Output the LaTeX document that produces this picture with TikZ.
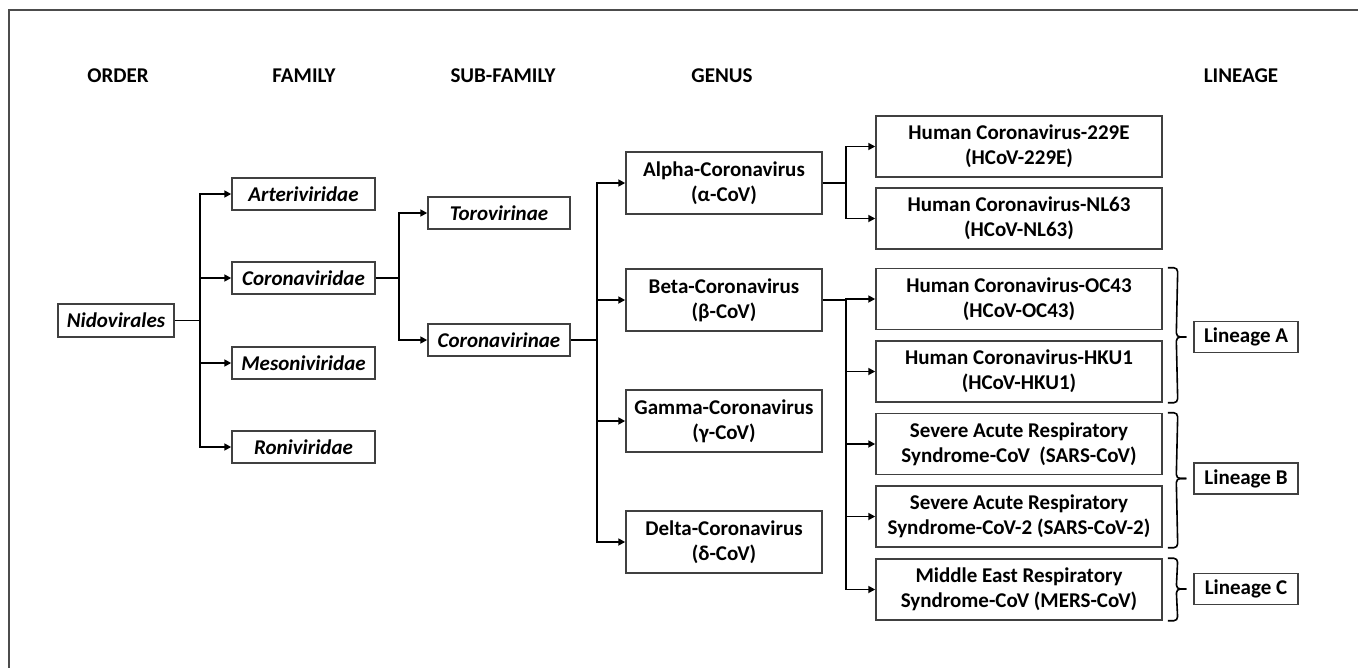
\documentclass[tikz,border=0pt]{standalone}
\usepackage{fontspec}
\setmainfont{Carlito}
\usetikzlibrary{arrows.meta,calc}
\begin{document}
\begin{tikzpicture}[x=1pt,y=-1pt,
  every node/.style={font=\fontsize{21}{25}\selectfont\bfseries},
  box/.style={draw=black!75, line width=1.5pt, inner sep=0pt, align=center},
  famstyle/.style={box, minimum width=143pt, minimum height=32pt, font=\fontsize{21}{25}\selectfont\bfseries\itshape},
  genstyle/.style={box, minimum width=196pt, minimum height=62pt},
  spstyle/.style={box, minimum width=286pt, minimum height=61pt},
  linstyle/.style={box, minimum width=104pt, minimum height=31pt},
  hdr/.style={anchor=base},
  conn/.style={line width=1.7pt, black},
  arr/.style={conn, -{Triangle[length=7pt,width=7pt]}},
  bracestyle/.style={line width=1.6pt, black, rounded corners=4pt}]
\useasboundingbox (0,0) rectangle (1358,667);
\draw[line width=1.6pt, black!70] (9,10) rectangle (1380,690);

% headers
\node[hdr] (hOrder) at (118,82) {ORDER};
\node[hdr] (hFamily) at (304,82) {FAMILY};
\node[hdr] (hSub) at (503,82) {SUB-FAMILY};
\node[hdr] (hGenus) at (722,82) {GENUS};
\node[hdr] (hLin) at (1241,82) {LINEAGE};

% order
\node[famstyle, minimum width=116pt, minimum height=33pt] (nid) at (116,320.5) {Nidovirales};
% families
\node[famstyle] (art) at (303.5,194) {Arteriviridae};
\node[famstyle] (corv) at (303.5,278) {Coronaviridae};
\node[famstyle] (meso) at (303.5,363) {Mesoniviridae};
\node[famstyle] (roni) at (303.5,447) {Roniviridae};
% sub-families
\node[famstyle, minimum width=142pt] (toro) at (499,213) {Torovirinae};
\node[famstyle, minimum width=142pt] (cvin) at (499,340) {Coronavirinae};
% genera
\node[genstyle] (alpha) at (724,183) {Alpha-Coronavirus\\(α-CoV)};
\node[genstyle] (beta) at (724,300) {Beta-Coronavirus\\(β-CoV)};
\node[genstyle] (gamma) at (724,421) {Gamma-Coronavirus\\(γ-CoV)};
\node[genstyle] (delta) at (724,542) {Delta-Coronavirus\\(δ-CoV)};
% species
\node[spstyle] (e229) at (1019,146.5) {Human Coronavirus-229E\\(HCoV-229E)};
\node[spstyle] (nl63) at (1019,218.5) {Human Coronavirus-NL63\\(HCoV-NL63)};
\node[spstyle] (oc43) at (1019,299) {Human Coronavirus-OC43\\(HCoV-OC43)};
\node[spstyle] (hku1) at (1019,371.5) {Human Coronavirus-HKU1\\(HCoV-HKU1)};
\node[spstyle] (sars) at (1019,444) {Severe Acute Respiratory\\Syndrome-CoV\ \ (SARS-CoV)};
\node[spstyle] (sars2) at (1019,516.5) {Severe Acute Respiratory\\Syndrome-CoV-2 (SARS-CoV-2)};
\node[spstyle] (mers) at (1019,589.5) {Middle East Respiratory\\Syndrome-CoV (MERS-CoV)};
% lineages
\node[linstyle] (linA) at (1246,337) {Lineage A};
\node[linstyle] (linB) at (1246,478.5) {Lineage B};
\node[linstyle] (linC) at (1246,589) {Lineage C};

% trunk coordinates
\coordinate (t1) at (200,0);
\coordinate (t2) at (399,0);
\coordinate (t3) at (597,0);
\coordinate (t4) at (846,0);

% order -> families
\draw[conn] (nid.east) -- (nid.east -| t1);
\foreach \n in {art,corv,meso,roni}
  \draw[arr] (nid.east -| t1) |- (\n.west);
% family -> sub-families
\draw[conn] (corv.east) -- (corv.east -| t2);
\foreach \n in {toro,cvin}
  \draw[arr] (corv.east -| t2) |- (\n.west);
% sub-family -> genera
\draw[conn] (cvin.east) -- (cvin.east -| t3);
\foreach \n in {alpha,beta,gamma,delta}
  \draw[arr] (cvin.east -| t3) |- (\n.west);
% alpha -> species
\draw[conn] (alpha.east) -- (alpha.east -| t4);
\foreach \n in {e229,nl63}
  \draw[arr] (alpha.east -| t4) |- (\n.west);
% beta -> species
\draw[conn] (beta.east) -- (beta.east -| t4);
\foreach \n in {oc43,hku1,sars,sars2,mers}
  \draw[arr] (beta.east -| t4) |- (\n.west);

% braces
\draw[bracestyle] ($(oc43.north east)+(5,0)$) -- ($(oc43.north east)+(15,0)$) -- ($(linA.west)+(-17,0)$) -- ($(linA.west)+(-7,0)$);
\draw[bracestyle] ($(linA.west)+(-7,0)$) -- ($(linA.west)+(-17,0)$) -- ($(hku1.south east)+(15,0)$) -- ($(hku1.south east)+(5,0)$);
\draw[bracestyle] ($(sars.north east)+(5,0)$) -- ($(sars.north east)+(15,0)$) -- ($(linB.west)+(-17,0)$) -- ($(linB.west)+(-7,0)$);
\draw[bracestyle] ($(linB.west)+(-7,0)$) -- ($(linB.west)+(-17,0)$) -- ($(sars2.south east)+(15,0)$) -- ($(sars2.south east)+(5,0)$);
\draw[bracestyle] ($(mers.north east)+(5,0)$) -- ($(mers.north east)+(15,0)$) -- ($(linC.west)+(-17,0)$) -- ($(linC.west)+(-7,0)$);
\draw[bracestyle] ($(linC.west)+(-7,0)$) -- ($(linC.west)+(-17,0)$) -- ($(mers.south east)+(15,0)$) -- ($(mers.south east)+(5,0)$);
\end{tikzpicture}
\end{document}
